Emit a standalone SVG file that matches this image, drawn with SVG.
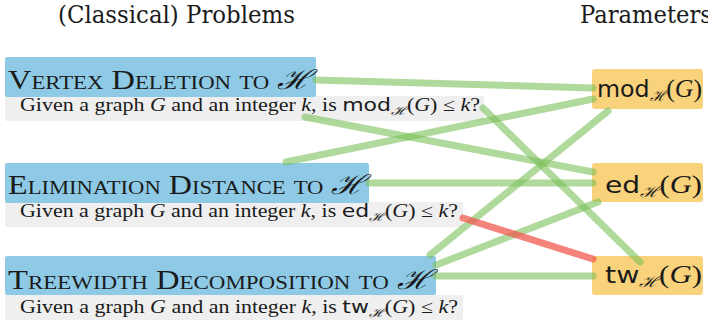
<svg xmlns="http://www.w3.org/2000/svg" width="708" height="324" viewBox="0 0 708 324">
<style>
text{font-family:'Liberation Serif','DejaVu Serif',serif;fill:#1a1a1a}
.hdr{font-size:25px;font-family:'DejaVu Serif',serif}
.prob{fill:#8ecae6}
.sub{fill:#efefef}
.par{fill:#f9d27c}
.pt{font-size:27px;font-variant:small-caps}
.st{font-size:18px}
.it{font-style:italic}
.sans{font-family:'DejaVu Sans','Liberation Sans',sans-serif}
.pl{font-size:25px}
.g{stroke:#7cc05a;stroke-opacity:0.6;stroke-width:7;stroke-linecap:round;fill:none}
.r{stroke:#f05a50;stroke-opacity:0.75;stroke-width:7;stroke-linecap:round;fill:none}
</style>
<text class="hdr" x="58" y="23" textLength="237" lengthAdjust="spacingAndGlyphs">(Classical) Problems</text>
<text class="hdr" x="580" y="23" textLength="132" lengthAdjust="spacingAndGlyphs">Parameters</text>

<g id="vd">
<rect class="sub" x="5" y="96" width="479" height="25" rx="2"/>
<rect class="prob" x="5" y="57" width="311" height="40" rx="2"/>
<text class="pt" x="8" y="89" textLength="304" lengthAdjust="spacingAndGlyphs">Vertex Deletion to <tspan class="it">ℋ</tspan></text>
<text class="st" x="20" y="111" textLength="460" lengthAdjust="spacingAndGlyphs">Given a graph <tspan class="it">G</tspan> and an integer <tspan class="it">k</tspan>, is <tspan class="sans">mod</tspan><tspan font-size="12" dy="4" class="it">ℋ</tspan><tspan dy="-4">(</tspan><tspan class="it">G</tspan>) ≤ <tspan class="it">k</tspan>?</text>
</g>

<g id="ed">
<rect class="sub" x="5" y="202" width="458" height="25" rx="2"/>
<rect class="prob" x="5" y="163" width="364" height="40" rx="2"/>
<text class="pt" x="8" y="194" textLength="358" lengthAdjust="spacingAndGlyphs">Elimination Distance to <tspan class="it">ℋ</tspan></text>
<text class="st" x="20" y="217" textLength="438" lengthAdjust="spacingAndGlyphs">Given a graph <tspan class="it">G</tspan> and an integer <tspan class="it">k</tspan>, is <tspan class="sans">ed</tspan><tspan font-size="12" dy="4" class="it">ℋ</tspan><tspan dy="-4">(</tspan><tspan class="it">G</tspan>) ≤ <tspan class="it">k</tspan>?</text>
</g>

<g id="td">
<rect class="sub" x="5" y="295" width="458" height="25" rx="2"/>
<rect class="prob" x="5" y="256" width="431" height="39" rx="2"/>
<text class="pt" x="8" y="289" textLength="424" lengthAdjust="spacingAndGlyphs">Treewidth Decomposition to <tspan class="it">ℋ</tspan></text>
<text class="st" x="20" y="313" textLength="438" lengthAdjust="spacingAndGlyphs">Given a graph <tspan class="it">G</tspan> and an integer <tspan class="it">k</tspan>, is <tspan class="sans">tw</tspan><tspan font-size="12" dy="4" class="it">ℋ</tspan><tspan dy="-4">(</tspan><tspan class="it">G</tspan>) ≤ <tspan class="it">k</tspan>?</text>
</g>

<g id="mod">
<rect class="par" x="592" y="69" width="111" height="40" rx="3"/>
<text class="pl" x="597" y="97" textLength="105" lengthAdjust="spacingAndGlyphs"><tspan class="sans" font-size="23">mod</tspan><tspan font-size="15" dy="4" class="it">ℋ</tspan><tspan dy="-4">(</tspan><tspan class="it">G</tspan>)</text>
</g>
<g id="edp">
<rect class="par" x="592" y="163" width="111" height="39" rx="3"/>
<text class="pl" x="605" y="193" textLength="97" lengthAdjust="spacingAndGlyphs"><tspan class="sans" font-size="23">ed</tspan><tspan font-size="15" dy="4" class="it">ℋ</tspan><tspan dy="-4">(</tspan><tspan class="it">G</tspan>)</text>
</g>
<g id="tw">
<rect class="par" x="592" y="256" width="111" height="39" rx="3"/>
<text class="pl" x="605" y="283" textLength="97" lengthAdjust="spacingAndGlyphs"><tspan class="sans" font-size="23">tw</tspan><tspan font-size="15" dy="4" class="it">ℋ</tspan><tspan dy="-4">(</tspan><tspan class="it">G</tspan>)</text>
</g>

<g id="connectors">
<line class="g" x1="316" y1="80" x2="593" y2="88"/>
<line class="g" x1="305" y1="117" x2="593" y2="172"/>
<line class="g" x1="286" y1="162" x2="593" y2="99"/>
<line class="g" x1="369" y1="183" x2="593" y2="183"/>
<line class="g" x1="483" y1="108" x2="640" y2="262"/>
<line class="g" x1="430" y1="255" x2="608" y2="111"/>
<line class="g" x1="436" y1="265" x2="598" y2="202"/>
<line class="g" x1="436" y1="276" x2="593" y2="276"/>
<line class="r" x1="463" y1="218" x2="593" y2="259"/>
</g>
</svg>
